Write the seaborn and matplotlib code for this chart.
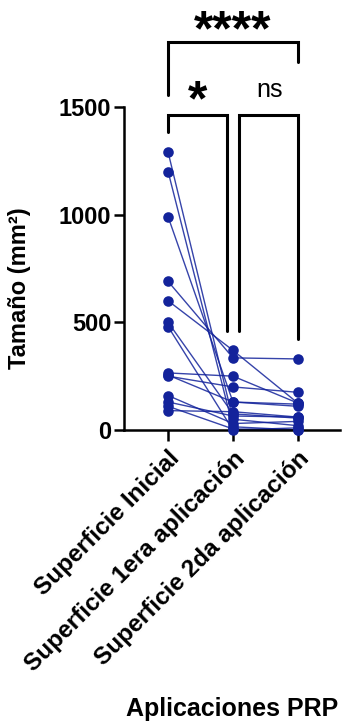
import matplotlib
matplotlib.use("Agg")
import matplotlib.pyplot as plt
import seaborn as sns
import pandas as pd
import numpy as np

categories = ["Superficie Inicial", "Superficie 1era aplicación", "Superficie 2da aplicación"]
inicial = [1290, 1200, 990, 690, 600, 500, 480, 265, 250, 160, 130, 110, 90, 255]
primera = [50, 15, 130, 335, 370, 75, 0, 250, 200, 30, 65, 5, 85, 130]
segunda = [20, 0, 110, 330, 125, 55, 10, 125, 175, 40, 60, 0, 60, 120]
y_ticks = [0, 500, 1000, 1500]
comparisons = [("*", 0, 1), ("ns", 1, 2), ("****", 0, 2)]

color = "#13239B"

rows = []
for i in range(len(inicial)):
    for j, vals in enumerate([inicial, primera, segunda]):
        rows.append({"sujeto": i, "pos": j, "valor": vals[i]})
df = pd.DataFrame(rows)

sns.set_style("ticks")
plt.rcParams['font.family'] = ['Liberation Sans', 'DejaVu Sans']
plt.rcParams.update({"text.color": "black", "axes.labelcolor": "black",
                     "xtick.color": "black", "ytick.color": "black",
                     "axes.edgecolor": "black"})

fig = plt.figure(figsize=(3.42, 7.23), dpi=100)
ax = fig.add_axes([124/342, 293/723, 216/342, 323/723])

sns.lineplot(data=df, x="pos", y="valor", units="sujeto", estimator=None,
             color=color, linewidth=1.0, alpha=0.85, ax=ax, legend=False)
sns.scatterplot(data=df, x="pos", y="valor", color=color, s=58,
                edgecolor=color, linewidth=0, ax=ax, legend=False, zorder=5)
for coll in ax.collections:
    coll.set_clip_on(False)
for ln in ax.lines:
    ln.set_clip_on(False)

ax.set_xlim(-0.68, 2.65)
ax.set_ylim(0, 1500)
ax.set_yticks(y_ticks)
ax.set_yticklabels([str(t) for t in y_ticks], fontsize=17, fontweight="bold")
ax.set_xticks(range(len(categories)))
ax.set_xticklabels(categories, rotation=45, ha="right", rotation_mode="anchor",
                   fontsize=17.5, fontweight="bold")
ax.tick_params(axis="y", length=7, width=1.8, pad=2, color="black")
ax.tick_params(axis="x", length=8, width=1.8, pad=4, color="black")
for s in ["left", "bottom"]:
    ax.spines[s].set_linewidth(1.8)
    ax.spines[s].set_color("black")
sns.despine(ax=ax)

ax.set_ylabel("Tamaño (mm²)", fontsize=17, fontweight="bold")
ax.yaxis.set_label_coords(-0.43, 0.44)
ax.set_xlabel("Aplicaciones PRP", fontsize=18, fontweight="bold")
ax.xaxis.set_label_coords(0.5, -0.864)
ax.xaxis.label.set_va("center")

# significance brackets
groups = [inicial, primera, segunda]
off = 92
lw = 2.2
low_y = 1463
for text, a, b in comparisons[:2]:
    xa = a + (0.0 if a == 0 else 0.09)
    xb = b - (0.09 if b == 1 else 0.0)
    ya = max(groups[a]) + off
    yb = max(groups[b]) + off
    ax.plot([xa, xa, xb, xb], [ya, low_y, low_y, yb], color="black", lw=lw,
            clip_on=False, solid_joinstyle="miter")
top_y = 1800
ax.plot([0, 0, 2, 2], [1556, top_y, top_y, 1709], color="black", lw=lw,
        clip_on=False, solid_joinstyle="miter")

ax.text(0.45, 1460, "*", fontsize=36, fontweight="bold", ha="center", va="baseline")
ax.text(1.57, 1546, "ns", fontsize=18, ha="center", va="baseline")
ax.text(1.0, 1785, "****", fontsize=36, fontweight="bold", ha="center", va="baseline")

fig.savefig("out.png", dpi=100)
